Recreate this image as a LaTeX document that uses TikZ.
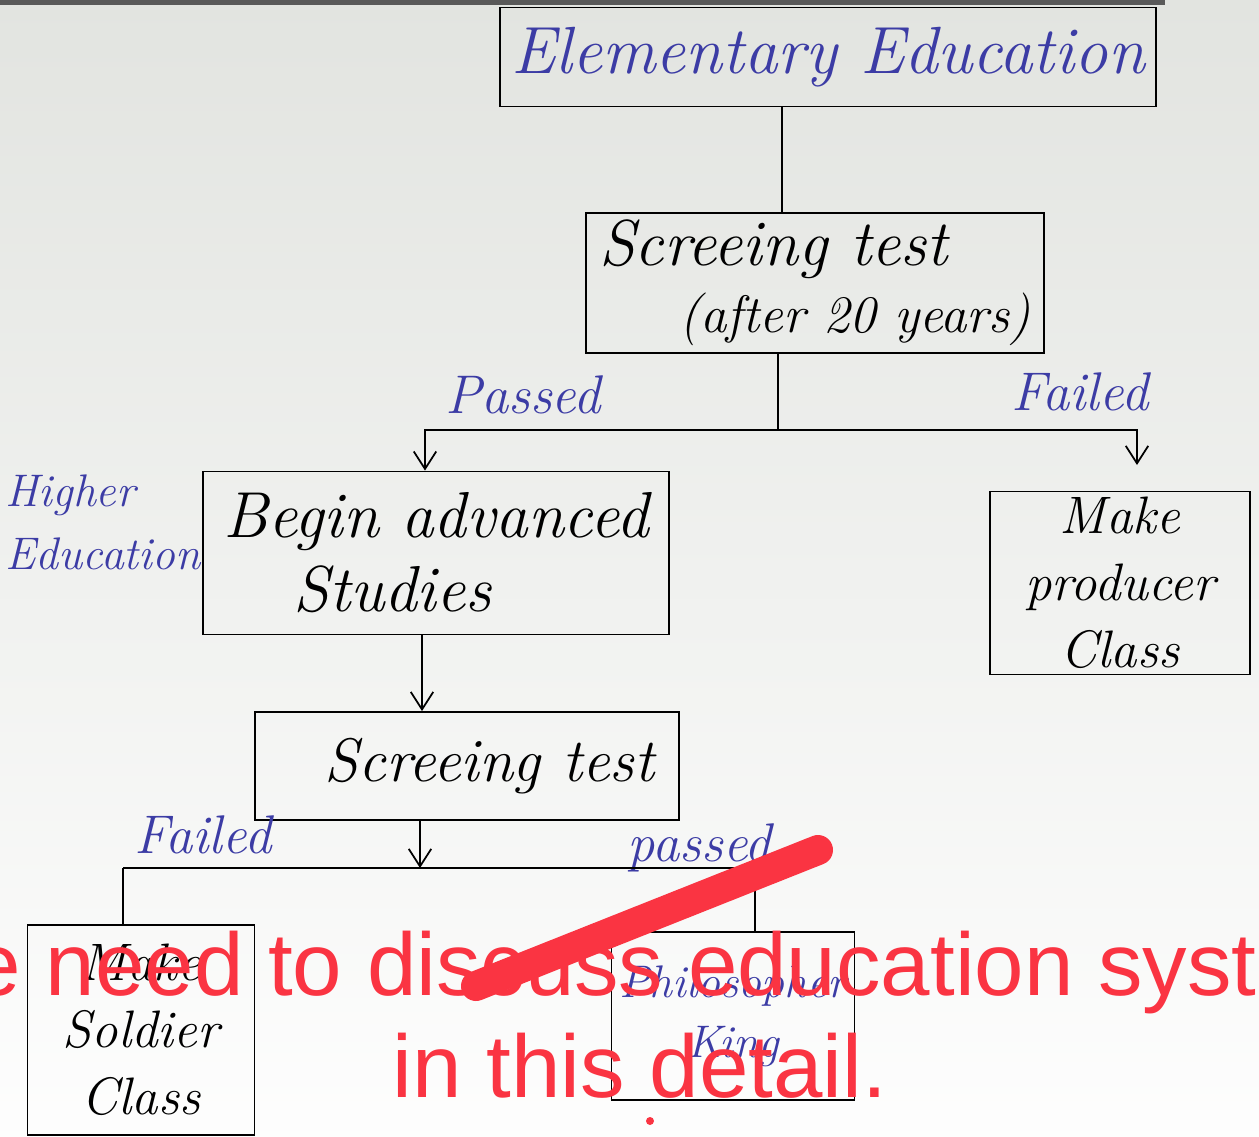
\documentclass[tikz,border=0pt]{standalone}
\usepackage{fontspec}
\newfontfamily\redfont{Liberation Sans}
\usetikzlibrary{arrows.meta}
\definecolor{ink}{RGB}{60,60,165}
\definecolor{paper}{RGB}{226,228,224}
\definecolor{marker}{RGB}{250,52,66}
\begin{document}
\begin{tikzpicture}[x=0.02cm, y=-0.02cm,
  box/.style={draw, line width=1.1pt, inner sep=0pt, align=center, font=\itshape\fontsize{30}{38}\selectfont},
  lbl/.style={text=ink, inner sep=0pt, font=\itshape\fontsize{31}{34}\selectfont},
  wire/.style={line width=1pt},
  arr/.style={wire, -{Straight Barb[length=3.5mm,width=4.5mm]}}]
\useasboundingbox (0,0) rectangle (1259,1137);
\clip (0,0) rectangle (1259,1137);
\shade[top color=paper, bottom color=white!95!paper] (0,0) rectangle (1259,1137);
\fill[black!65] (0,0) rectangle (1165,5);
% boxes
\node[box, minimum width=13.14cm, minimum height=1.98cm, text=ink, font=\itshape\fontsize{38}{40}\selectfont] (1) at (828,57) {Elementary Education};
\node[box, minimum width=9.18cm, minimum height=2.8cm, align=left] (2) at (815,283) {{\fontsize{37}{40}\selectfont Screeing test}\\\hspace{1.6cm}(after 20 years)};
\node[box, minimum width=9.34cm, minimum height=3.26cm, align=left, font=\itshape\fontsize{37}{42}\selectfont] (3) at (436,553) {Begin advanced\\\hspace{1.4cm}Studies};
\node[box, minimum width=5.2cm, minimum height=3.66cm] (4) at (1120,583) {Make\\producer\\Class};
\node[box, minimum width=8.5cm, minimum height=2.16cm, font=\itshape\fontsize{35}{40}\selectfont] (5) at (467,766) {\hspace{0.9cm}Screeing test};
\node[box, minimum width=4.54cm, minimum height=4.2cm] (6) at (141,1030) {Make\\Soldier\\Class};
\node[box, minimum width=4.86cm, minimum height=3.36cm, text=ink, font=\itshape\fontsize{26}{34}\selectfont] (7) at (733,1016) {Philosopher\\King};
% labels
\node[lbl] (p1) at (523,395) {Passed};
\node[lbl] (f1) at (1080,392) {Failed};
\node[lbl, align=left, font=\itshape\fontsize{26}{36}\selectfont] (h) at (103,522) {Higher\\Education};
\node[lbl] (f2) at (203,835) {Failed};
\node[lbl] (p2) at (700,848) {passed};
% joints
\coordinate (j1) at (782,0);
\coordinate (j2) at (778,430);
\coordinate (a1) at (425,430);
\coordinate (a2) at (1137,430);
\coordinate (a3) at (1137,465);
\coordinate (c1) at (422,0);
\coordinate (j3) at (420,868);
\coordinate (b1) at (123,868);
\coordinate (b2) at (755,868);
% connectors
\draw[wire] (1.south -| j1) to[] (2.north -| j1);
\draw[wire] (2.south -| j2) to[] (j2);
\draw[arr] (j2) to[] (a1) to[] (3.north -| a1);
\draw[arr] (j2) to[] (a2) to[] (a3);
\draw[arr] (3.south -| c1) to[] (5.north -| c1);
\draw[arr] (5.south -| j3) to[] (j3);
\draw[wire] (b1) to[] (b2);
\draw[wire] (b1) to[] (6.north -| b1);
\draw[wire] (b2) to[] (7.north -| b2);
% overlay
\draw[marker, line width=0.6cm, line cap=round] (818,850) -- (476,986);
\fill[marker] (650,1121) circle (4);
\node[anchor=base west, text=marker, inner sep=0pt, font=\redfont\fontsize{50.6}{60}\selectfont] (r1) at (-111,995) {We need to discuss education system};
\node[anchor=base, text=marker, inner sep=0pt, font=\redfont\fontsize{50.6}{60}\selectfont] (r2) at (640,1097) {in this detail.};
\end{tikzpicture}
\end{document}
